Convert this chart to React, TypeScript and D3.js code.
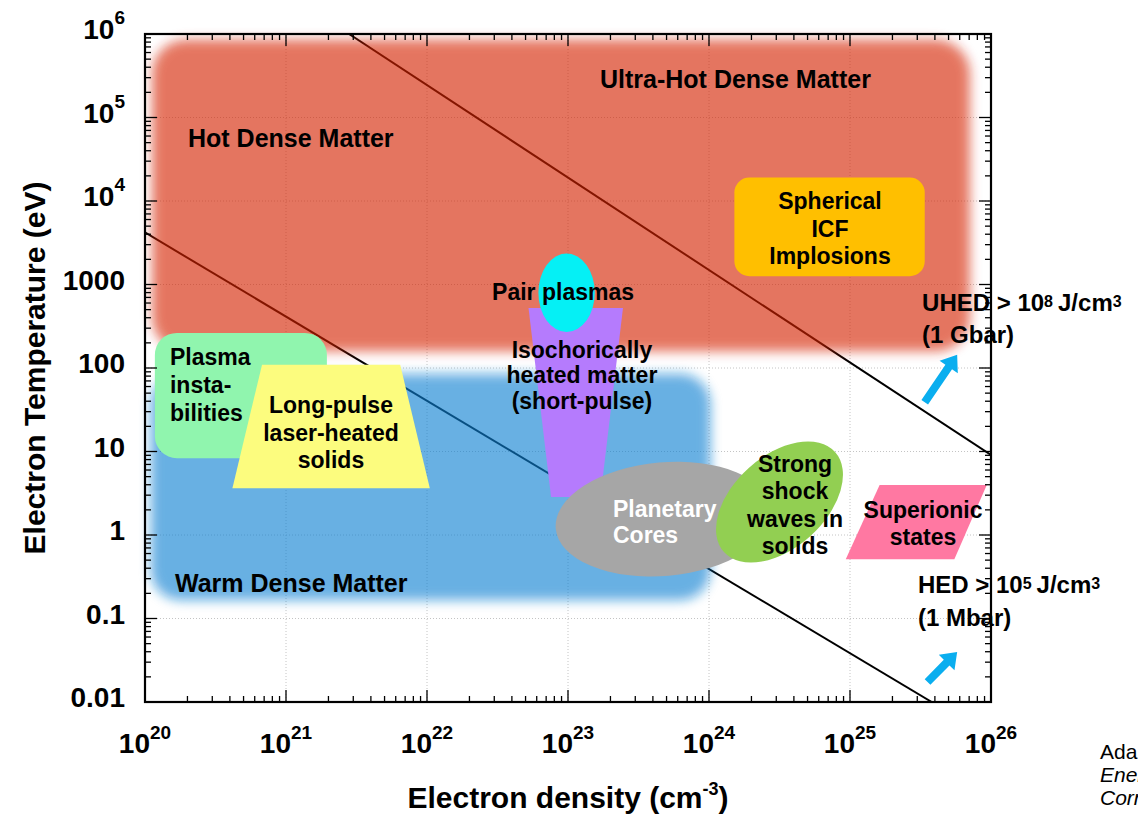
import React from 'react';
import * as d3 from 'd3';

const FONT = "'Liberation Sans', Arial, Helvetica, sans-serif";

// ---- axes -------------------------------------------------------------
const densityDomain: [number, number] = [1e20, 1e26];
const temperatureDomain: [number, number] = [0.01, 1e6];
const densityTicks = [1e20, 1e21, 1e22, 1e23, 1e24, 1e25, 1e26];
const densityTickLabels = ['10^20', '10^21', '10^22', '10^23', '10^24', '10^25', '10^26'];
const temperatureTicks = [0.01, 0.1, 1, 10, 100, 1000, 1e4, 1e5, 1e6];
const temperatureTickLabels = ['0.01', '0.1', '1', '10', '100', '1000', '10^4', '10^5', '10^6'];

// ---- constant energy-density boundaries (density cm^-3, temperature eV)
const hedBoundary = [
  { n: 1e20, T: 4200 },
  { n: 3.8e25, T: 0.01 },
];
const uhedBoundary = [
  { n: 2.8e21, T: 1e6 },
  { n: 1e26, T: 9.1 },
];

// ---- regimes, in log10 units (density, temperature) -------------------
const hotDenseBand = { n: [20.05, 25.85], T: [2.2, 5.93] };
const warmDenseBand = { n: [20.04, 24.01], T: [-0.78, 1.93] };
const plasmaInstabilities = { n: [20.07, 21.29], T: [0.92, 2.42] };
const icfImplosions = { n: [24.18, 25.53], T: [3.1, 4.28] };
const longPulseSolids = [[20.83, 2.04], [21.81, 2.04], [22.02, 0.56], [20.62, 0.56]];
const isochoricHeating = [[22.72, 2.72], [23.39, 2.72], [23.23, 0.455], [22.88, 0.455]];
const superionicStates = [[25.21, 0.6], [25.97, 0.6], [25.74, -0.29], [24.97, -0.29]];
const pairPlasmas = { n: 22.99, T: 2.9, rn: 0.2, rT: 0.47 };
const planetaryCores = { n: 23.68, T: 0.19, rn: 0.77, rT: 0.68 };
const shockWaves = { n: 24.5, T: 0.395, rn: 0.53, rT: 0.55 };

// ---- arrows toward higher energy density (log10 units) ----------------
const uhedArrow = { from: [25.53, 1.59], to: [25.76, 2.16] };
const hedArrow = { from: [25.55, -1.76], to: [25.76, -1.4] };

type Label = { lines: string[]; n: number; T: number; anchor: 'start' | 'middle'; lh: number; size: number; fill?: string };
const labels: Label[] = [
  { lines: ['Ultra-Hot Dense Matter'], n: 23.227, T: 5.353, anchor: 'start', lh: 0, size: 25 },
  { lines: ['Hot Dense Matter'], n: 20.305, T: 4.647, anchor: 'start', lh: 0, size: 25 },
  { lines: ['Warm Dense Matter'], n: 20.213, T: -0.683, anchor: 'start', lh: 0, size: 25 },
  { lines: ['Plasma', 'insta-', 'bilities'], n: 20.177, T: 2.036, anchor: 'start', lh: 28, size: 23 },
  { lines: ['Long-pulse', 'laser-heated', 'solids'], n: 21.319, T: 1.461, anchor: 'middle', lh: 27.5, size: 23 },
  { lines: ['Pair plasmas'], n: 22.965, T: 2.814, anchor: 'middle', lh: 0, size: 23 },
  { lines: ['Isochorically', 'heated matter', '(short-pulse)'], n: 23.099, T: 2.12, anchor: 'middle', lh: 25.5, size: 23 },
  { lines: ['Planetary', 'Cores'], n: 23.319, T: 0.216, anchor: 'start', lh: 26, size: 23, fill: '#ffffff' },
  { lines: ['Strong', 'shock', 'waves in', 'solids'], n: 24.61, T: 0.754, anchor: 'middle', lh: 27.3, size: 23 },
  { lines: ['Superionic', 'states'], n: 25.518, T: 0.204, anchor: 'middle', lh: 27, size: 23 },
  { lines: ['Spherical', 'ICF', 'Implosions'], n: 24.858, T: 3.904, anchor: 'middle', lh: 27.5, size: 23 },
];

function Power({ label, supSize, rise }: { label: string; supSize: number; rise: number }) {
  const [base, exp] = label.split('^');
  if (exp === undefined) return <>{base}</>;
  return (
    <>
      <tspan>{base}</tspan>
      <tspan dy={-rise} fontSize={supSize}>{exp}</tspan>
    </>
  );
}

export default function App() {
  const x = d3.scaleLog().domain(densityDomain).range([145, 991]);
  const y = d3.scaleLog().domain(temperatureDomain).range([702, 34]);
  const X = (e: number) => x(Math.pow(10, e));
  const Y = (e: number) => y(Math.pow(10, e));
  const [left, right] = x.range();
  const [bottom, top] = y.range();

  const minorX: number[] = [];
  for (let d = 20; d < 26; d++) for (let k = 2; k <= 9; k++) minorX.push(k * Math.pow(10, d));
  const minorY: number[] = [];
  for (let d = -2; d < 6; d++) for (let k = 2; k <= 9; k++) minorY.push(k * Math.pow(10, d));

  const line = d3
    .line<{ n: number; T: number }>()
    .x((d) => x(d.n))
    .y((d) => y(d.T));

  const poly = (pts: number[][]) => pts.map(([n, t]) => `${X(n)},${Y(t)}`).join(' ');
  const band = (b: { n: number[]; T: number[] }) => ({
    x: X(b.n[0]),
    y: Y(b.T[1]),
    width: X(b.n[1]) - X(b.n[0]),
    height: Y(b.T[0]) - Y(b.T[1]),
  });
  const ell = (e: { n: number; T: number; rn: number; rT: number }) => ({
    cx: X(e.n),
    cy: Y(e.T),
    rx: X(e.n + e.rn) - X(e.n),
    ry: Y(e.T - e.rT) - Y(e.T),
  });

  const arrowPath = (a: { from: number[]; to: number[] }) => {
    const x0 = X(a.from[0]), y0 = Y(a.from[1]);
    const x1 = X(a.to[0]), y1 = Y(a.to[1]);
    const len = Math.hypot(x1 - x0, y1 - y0);
    const ux = (x1 - x0) / len, uy = (y1 - y0) / len;
    const vx = -uy, vy = ux;
    const shaft = 4, head = 11, headLen = 15;
    const nx = x1 - ux * headLen, ny = y1 - uy * headLen;
    const p = [
      [x0 + vx * shaft, y0 + vy * shaft],
      [nx + vx * shaft, ny + vy * shaft],
      [nx + vx * head, ny + vy * head],
      [x1, y1],
      [nx - vx * head, ny - vy * head],
      [nx - vx * shaft, ny - vy * shaft],
      [x0 - vx * shaft, y0 - vy * shaft],
    ];
    return 'M' + p.map((q) => q.join(',')).join('L') + 'Z';
  };

  const hot = band(hotDenseBand);
  const warm = band(warmDenseBand);
  const plasma = band(plasmaInstabilities);
  const icf = band(icfImplosions);
  const pair = ell(pairPlasmas);
  const planet = ell(planetaryCores);
  const shock = ell(shockWaves);

  return (
    <svg
      width={1138}
      height={820}
      style={{ position: 'absolute', left: 0, top: 0, background: '#fff' }}
      fontFamily={FONT}
    >
      <defs>
        <filter id="soft" x="-20%" y="-20%" width="140%" height="140%">
          <feGaussianBlur stdDeviation={6} />
        </filter>
        <clipPath id="plotArea">
          <rect x={left} y={top} width={right - left} height={bottom - top} />
        </clipPath>
      </defs>

      {/* decade grid */}
      <g stroke="#c4c4c4" strokeWidth={1} strokeDasharray="1 2">
        {densityTicks.slice(1, -1).map((t) => (
          <line key={'gx' + t} x1={x(t)} x2={x(t)} y1={top} y2={bottom} />
        ))}
        {temperatureTicks.slice(1, -1).map((t) => (
          <line key={'gy' + t} x1={left} x2={right} y1={y(t)} y2={y(t)} />
        ))}
      </g>

      {/* constant energy-density boundaries */}
      <g clipPath="url(#plotArea)" fill="none" stroke="#000" strokeWidth={2}>
        <path d={line(hedBoundary) || ''} />
        <path d={line(uhedBoundary) || ''} />
      </g>

      {/* hot / warm dense matter bands */}
      <g opacity={0.62} filter="url(#soft)">
        <rect {...hot} rx={34} fill="#d52002" />
        <rect {...warm} rx={30} fill="#0880d2" />
      </g>

      {/* regimes */}
      <rect {...icf} rx={15} fill="#ffbf00" />
      <rect {...plasma} rx={22} fill="#90f5ae" />
      <polygon points={poly(longPulseSolids)} fill="#fcfc7e" />
      <polygon points={poly(isochoricHeating)} fill="#b57bfd" />
      <ellipse {...pair} fill="#05f0f5" />
      <ellipse {...planet} fill="#a6a6a6" transform={`rotate(-5 ${planet.cx} ${planet.cy})`} />
      <ellipse {...shock} fill="#92cf52" transform={`rotate(-42 ${shock.cx} ${shock.cy})`} />
      <polygon points={poly(superionicStates)} fill="#ff78a2" />

      {/* regime labels */}
      <g fontWeight="bold">
        {labels.map((l, i) => (
          <text
            key={i}
            x={X(l.n)}
            y={Y(l.T)}
            textAnchor={l.anchor}
            fontSize={l.size}
            fill={l.fill || '#000'}
          >
            {l.lines.map((s, j) => (
              <tspan key={j} x={X(l.n)} dy={j === 0 ? 0 : l.lh}>
                {s}
              </tspan>
            ))}
          </text>
        ))}
      </g>

      {/* threshold annotations */}
      <path d={arrowPath(uhedArrow)} fill="#0aaeef" />
      <path d={arrowPath(hedArrow)} fill="#0aaeef" />
      <g fontWeight="bold" fontSize={24}>
        <text x={X(25.511)} y={Y(2.683)}>
          UHED &gt; 10<tspan dy={-4} fontSize={16}>8</tspan>
          <tspan dy={4} dx={5}>J/cm</tspan>
          <tspan dy={-4} fontSize={16}>3</tspan>
        </text>
        <text x={X(25.511)} y={Y(2.683) + 32}>(1 Gbar)</text>
        <text x={X(25.482)} y={Y(-0.695)}>
          HED &gt; 10<tspan dy={-4} fontSize={16}>5</tspan>
          <tspan dy={4} dx={5}>J/cm</tspan>
          <tspan dy={-4} fontSize={16}>3</tspan>
        </text>
        <text x={X(25.482)} y={Y(-0.695) + 33}>(1 Mbar)</text>
      </g>

      {/* ticks */}
      <g stroke="#000" strokeWidth={1.3}>
        {densityTicks.map((t) => (
          <g key={'tx' + t}>
            <line x1={x(t)} x2={x(t)} y1={bottom} y2={bottom - 12} />
            <line x1={x(t)} x2={x(t)} y1={top} y2={top + 12} />
          </g>
        ))}
        {minorX.map((t) => (
          <g key={'mx' + t}>
            <line x1={x(t)} x2={x(t)} y1={bottom} y2={bottom - 6} />
            <line x1={x(t)} x2={x(t)} y1={top} y2={top + 6} />
          </g>
        ))}
        {temperatureTicks.map((t) => (
          <g key={'ty' + t}>
            <line x1={left} x2={left + 12} y1={y(t)} y2={y(t)} />
            <line x1={right} x2={right - 12} y1={y(t)} y2={y(t)} />
          </g>
        ))}
        {minorY.map((t) => (
          <g key={'my' + t}>
            <line x1={left} x2={left + 6} y1={y(t)} y2={y(t)} />
            <line x1={right} x2={right - 6} y1={y(t)} y2={y(t)} />
          </g>
        ))}
      </g>
      <rect x={left} y={top} width={right - left} height={bottom - top} fill="none" stroke="#000" strokeWidth={2.2} />

      {/* tick labels */}
      <g fontWeight="bold" fontSize={28}>
        {temperatureTicks.map((t, i) => (
          <text key={'ly' + t} x={125} y={y(t) + 5} textAnchor="end">
            <Power label={temperatureTickLabels[i]} supSize={19} rise={15} />
          </text>
        ))}
        {densityTicks.map((t, i) => (
          <text key={'lx' + t} x={x(t)} y={753} textAnchor="middle">
            <Power label={densityTickLabels[i]} supSize={19} rise={14} />
          </text>
        ))}
      </g>

      {/* axis titles */}
      <g fontWeight="bold" fontSize={30}>
        <text x={(left + right) / 2} y={808} textAnchor="middle">
          Electron density (cm<tspan dy={-13} fontSize={18}>-3</tspan>
          <tspan dy={13}>)</tspan>
        </text>
        <text transform={`translate(45,${(top + bottom) / 2}) rotate(-90)`} textAnchor="middle">
          Electron Temperature (eV)
        </text>
      </g>

      {/* source note */}
      <g fontSize={21}>
        <text x={1100} y={759}>Adapted from</text>
        <text x={1100} y={782} fontStyle="italic">Energy Density</text>
        <text x={1100} y={805} fontStyle="italic">Cornerstones</text>
      </g>
    </svg>
  );
}
